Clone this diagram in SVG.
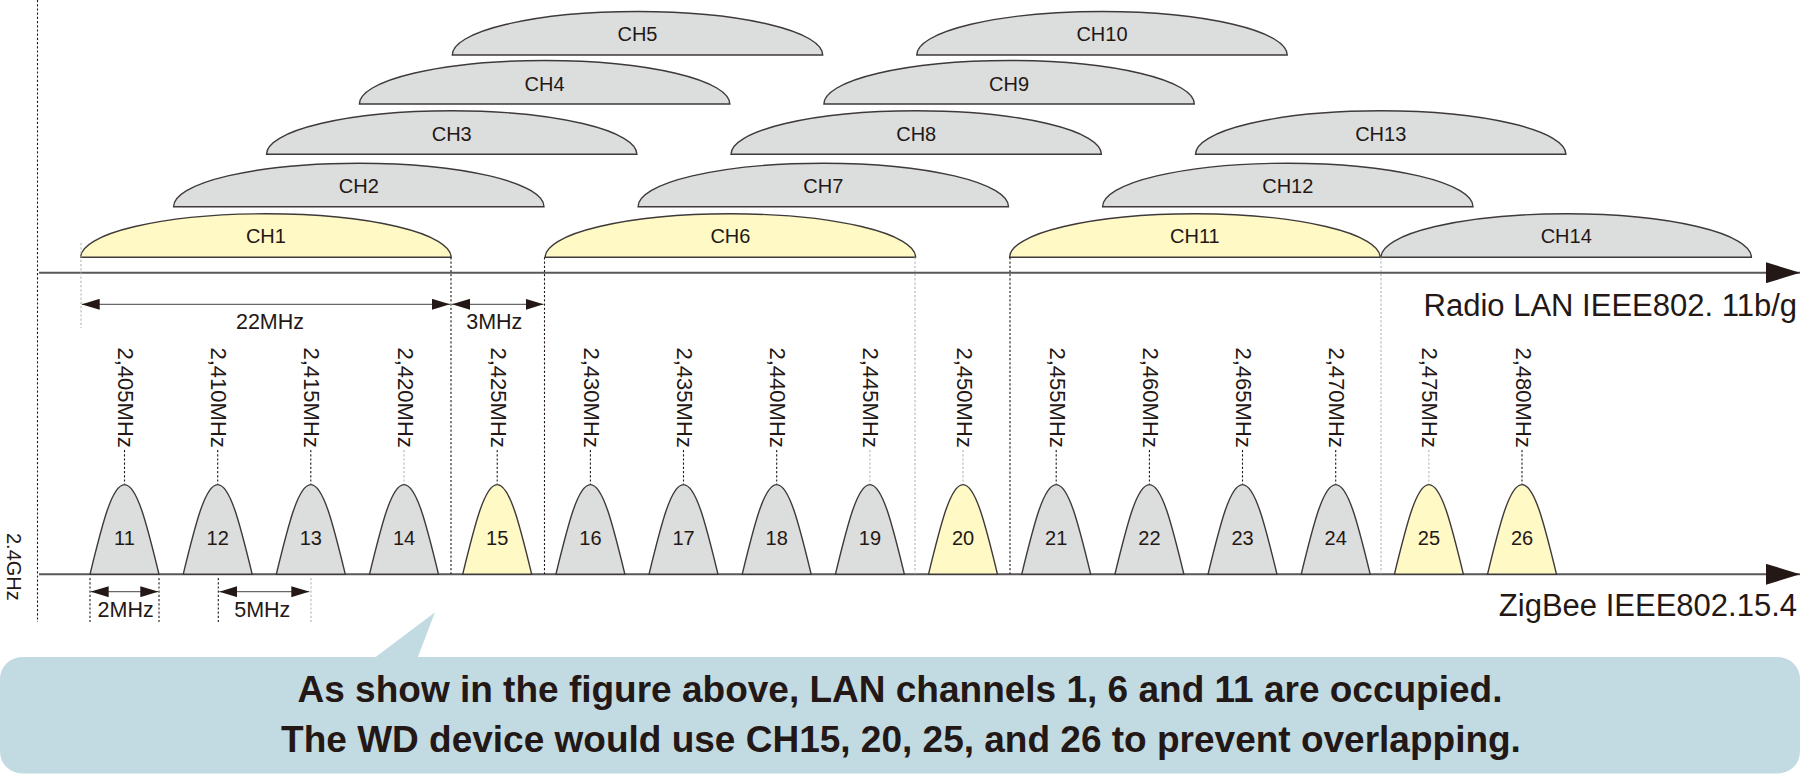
<svg xmlns="http://www.w3.org/2000/svg" width="1800" height="774" viewBox="0 0 1800 774">
<style>
text{font-family:"Liberation Sans",Arial,sans-serif;fill:#231815}
.lbl{font-size:20px;text-anchor:middle}
.dl{font-size:21.5px;text-anchor:middle}
.frq{font-size:22px}
.big{font-size:31px;text-anchor:end}
.note{font-size:37px;font-weight:bold;text-anchor:middle}
.shape{stroke:#3e3a39;stroke-width:1.4}
.gray{fill:#dcdddd}
.yel{fill:#fff9c6}
.axis{stroke:#595757;stroke-width:2;fill:none}
.dim{stroke:#6a6868;stroke-width:1.2;fill:none}
.dk{stroke:#231815;stroke-width:1.1;stroke-dasharray:2.2 2;fill:none}
.lt{stroke:#b5b5b6;stroke-width:1.1;stroke-dasharray:2.2 2;fill:none}
</style>
<defs>
<path id="arc" d="M0,0 A185.2 43.5 0 0 1 370.4,0 Z"/>
<path id="bell" d="M-34.5,0 C-22.08,-51.1 -12.42,-89.7 0,-89.7 C12.42,-89.7 22.08,-51.1 34.5,0 Z"/>
<marker id="dimArrow" viewBox="0 0 18 11" refX="18" refY="5.5" markerWidth="18" markerHeight="11" markerUnits="userSpaceOnUse" orient="auto-start-reverse"><path d="M0,0 L18,5.5 L0,11 Z" fill="#231815"/></marker>
<marker id="axisArrow" viewBox="0 0 34 21" refX="34" refY="10.5" markerWidth="34" markerHeight="21" markerUnits="userSpaceOnUse" orient="auto"><path d="M0,0 L34,10.5 L0,21 Z" fill="#231815"/></marker>
</defs>

<!-- WLAN channels -->
<g id="ch1"><use href="#arc" class="shape yel" transform="translate(80.7,257.3)"/><text class="lbl" x="265.9" y="243">CH1</text></g>
<g id="ch2"><use href="#arc" class="shape gray" transform="translate(173.6,206.7)"/><text class="lbl" x="358.8" y="192.7">CH2</text></g>
<g id="ch3"><use href="#arc" class="shape gray" transform="translate(266.5,154.3)"/><text class="lbl" x="451.7" y="140.7">CH3</text></g>
<g id="ch4"><use href="#arc" class="shape gray" transform="translate(359.4,104)"/><text class="lbl" x="544.6" y="90.7">CH4</text></g>
<g id="ch5"><use href="#arc" class="shape gray" transform="translate(452.3,55)"/><text class="lbl" x="637.5" y="40.7">CH5</text></g>
<g id="ch6"><use href="#arc" class="shape yel" transform="translate(545.2,257.3)"/><text class="lbl" x="730.4" y="243">CH6</text></g>
<g id="ch7"><use href="#arc" class="shape gray" transform="translate(638.1,206.7)"/><text class="lbl" x="823.3" y="192.7">CH7</text></g>
<g id="ch8"><use href="#arc" class="shape gray" transform="translate(731,154.3)"/><text class="lbl" x="916.2" y="140.7">CH8</text></g>
<g id="ch9"><use href="#arc" class="shape gray" transform="translate(823.9,104)"/><text class="lbl" x="1009.1" y="90.7">CH9</text></g>
<g id="ch10"><use href="#arc" class="shape gray" transform="translate(916.8,55)"/><text class="lbl" x="1102" y="40.7">CH10</text></g>
<g id="ch11"><use href="#arc" class="shape yel" transform="translate(1009.7,257.3)"/><text class="lbl" x="1194.9" y="243">CH11</text></g>
<g id="ch12"><use href="#arc" class="shape gray" transform="translate(1102.6,206.7)"/><text class="lbl" x="1287.8" y="192.7">CH12</text></g>
<g id="ch13"><use href="#arc" class="shape gray" transform="translate(1195.5,154.3)"/><text class="lbl" x="1380.7" y="140.7">CH13</text></g>
<g id="ch14"><use href="#arc" class="shape gray" transform="translate(1381,257.3)"/><text class="lbl" x="1566.2" y="243">CH14</text></g>

<!-- connectors: axes, guide lines, dimensions -->
<g id="connectors">
<line class="dk" x1="37.5" y1="0" x2="37.5" y2="622"/>
<line class="axis" x1="39" y1="272.7" x2="1800" y2="272.7" marker-end="url(#axisArrow)"/>
<line class="axis" x1="39" y1="574.3" x2="1800" y2="574.3" marker-end="url(#axisArrow)"/>
<line class="lt" x1="81" y1="243" x2="81" y2="328"/>
<line class="dk" x1="451" y1="257.3" x2="451" y2="574"/>
<line class="dk" x1="544.5" y1="257.3" x2="544.5" y2="574"/>
<line class="lt" x1="915" y1="257.3" x2="915" y2="574"/>
<line class="dk" x1="1010" y1="257.3" x2="1010" y2="574"/>
<line class="lt" x1="1381" y1="257.3" x2="1381" y2="574"/>
<line class="dim" x1="81.7" y1="304.3" x2="450" y2="304.3" marker-start="url(#dimArrow)" marker-end="url(#dimArrow)"/>
<line class="dim" x1="452" y1="304.3" x2="543.5" y2="304.3" marker-start="url(#dimArrow)" marker-end="url(#dimArrow)"/>
<line class="dk" x1="90" y1="578" x2="90" y2="622"/>
<line class="dk" x1="159" y1="578" x2="159" y2="622"/>
<line class="dk" x1="218.3" y1="578" x2="218.3" y2="622"/>
<line class="lt" x1="311" y1="578" x2="311" y2="622"/>
<line class="dim" x1="90.7" y1="591.7" x2="158.3" y2="591.7" marker-start="url(#dimArrow)" marker-end="url(#dimArrow)"/>
<line class="dim" x1="219.3" y1="591.7" x2="309.3" y2="591.7" marker-start="url(#dimArrow)" marker-end="url(#dimArrow)"/>
<line class="dk" x1="124.5" y1="450" x2="124.5" y2="484"/>
<line class="dk" x1="217.7" y1="450" x2="217.7" y2="484"/>
<line class="dk" x1="310.8" y1="450" x2="310.8" y2="484"/>
<line class="lt" x1="404" y1="450" x2="404" y2="484"/>
<line class="dk" x1="497.2" y1="450" x2="497.2" y2="484"/>
<line class="dk" x1="590.4" y1="450" x2="590.4" y2="484"/>
<line class="dk" x1="683.5" y1="450" x2="683.5" y2="484"/>
<line class="dk" x1="776.7" y1="450" x2="776.7" y2="484"/>
<line class="lt" x1="869.9" y1="450" x2="869.9" y2="484"/>
<line class="lt" x1="963" y1="450" x2="963" y2="484"/>
<line class="dk" x1="1056.2" y1="450" x2="1056.2" y2="484"/>
<line class="dk" x1="1149.4" y1="450" x2="1149.4" y2="484"/>
<line class="dk" x1="1242.5" y1="450" x2="1242.5" y2="484"/>
<line class="dk" x1="1335.7" y1="450" x2="1335.7" y2="484"/>
<line class="lt" x1="1428.9" y1="450" x2="1428.9" y2="484"/>
<line class="dk" x1="1522" y1="450" x2="1522" y2="484"/>
</g>

<!-- dimension and axis labels -->
<g id="labels">
<text class="dl" x="270" y="329.3">22MHz</text>
<text class="dl" x="494.3" y="329.3">3MHz</text>
<text class="dl" x="125.7" y="616.7">2MHz</text>
<text class="dl" x="262.3" y="616.7">5MHz</text>
<text class="big" x="1797" y="315.7">Radio LAN IEEE802. 11b/g</text>
<text class="big" x="1797" y="615.7">ZigBee IEEE802.15.4</text>
<text style="font-size:20px" transform="translate(6.5,533) rotate(90)">2.4GHz</text>
</g>

<!-- ZigBee channels -->
<g id="z11"><use href="#bell" class="shape gray" x="124.5" y="574.3"/><text class="lbl" x="124.5" y="545">11</text><text class="frq" transform="translate(118,347.5) rotate(90)">2,405MHz</text></g>
<g id="z12"><use href="#bell" class="shape gray" x="217.7" y="574.3"/><text class="lbl" x="217.7" y="545">12</text><text class="frq" transform="translate(211.2,347.5) rotate(90)">2,410MHz</text></g>
<g id="z13"><use href="#bell" class="shape gray" x="310.8" y="574.3"/><text class="lbl" x="310.8" y="545">13</text><text class="frq" transform="translate(304.3,347.5) rotate(90)">2,415MHz</text></g>
<g id="z14"><use href="#bell" class="shape gray" x="404" y="574.3"/><text class="lbl" x="404" y="545">14</text><text class="frq" transform="translate(397.5,347.5) rotate(90)">2,420MHz</text></g>
<g id="z15"><use href="#bell" class="shape yel" x="497.2" y="574.3"/><text class="lbl" x="497.2" y="545">15</text><text class="frq" transform="translate(490.7,347.5) rotate(90)">2,425MHz</text></g>
<g id="z16"><use href="#bell" class="shape gray" x="590.4" y="574.3"/><text class="lbl" x="590.4" y="545">16</text><text class="frq" transform="translate(583.9,347.5) rotate(90)">2,430MHz</text></g>
<g id="z17"><use href="#bell" class="shape gray" x="683.5" y="574.3"/><text class="lbl" x="683.5" y="545">17</text><text class="frq" transform="translate(677,347.5) rotate(90)">2,435MHz</text></g>
<g id="z18"><use href="#bell" class="shape gray" x="776.7" y="574.3"/><text class="lbl" x="776.7" y="545">18</text><text class="frq" transform="translate(770.2,347.5) rotate(90)">2,440MHz</text></g>
<g id="z19"><use href="#bell" class="shape gray" x="869.9" y="574.3"/><text class="lbl" x="869.9" y="545">19</text><text class="frq" transform="translate(863.4,347.5) rotate(90)">2,445MHz</text></g>
<g id="z20"><use href="#bell" class="shape yel" x="963" y="574.3"/><text class="lbl" x="963" y="545">20</text><text class="frq" transform="translate(956.5,347.5) rotate(90)">2,450MHz</text></g>
<g id="z21"><use href="#bell" class="shape gray" x="1056.2" y="574.3"/><text class="lbl" x="1056.2" y="545">21</text><text class="frq" transform="translate(1049.7,347.5) rotate(90)">2,455MHz</text></g>
<g id="z22"><use href="#bell" class="shape gray" x="1149.4" y="574.3"/><text class="lbl" x="1149.4" y="545">22</text><text class="frq" transform="translate(1142.9,347.5) rotate(90)">2,460MHz</text></g>
<g id="z23"><use href="#bell" class="shape gray" x="1242.5" y="574.3"/><text class="lbl" x="1242.5" y="545">23</text><text class="frq" transform="translate(1236,347.5) rotate(90)">2,465MHz</text></g>
<g id="z24"><use href="#bell" class="shape gray" x="1335.7" y="574.3"/><text class="lbl" x="1335.7" y="545">24</text><text class="frq" transform="translate(1329.2,347.5) rotate(90)">2,470MHz</text></g>
<g id="z25"><use href="#bell" class="shape yel" x="1428.9" y="574.3"/><text class="lbl" x="1428.9" y="545">25</text><text class="frq" transform="translate(1422.4,347.5) rotate(90)">2,475MHz</text></g>
<g id="z26"><use href="#bell" class="shape yel" x="1522" y="574.3"/><text class="lbl" x="1522" y="545">26</text><text class="frq" transform="translate(1515.5,347.5) rotate(90)">2,480MHz</text></g>

<!-- callout -->
<g id="callout">
<rect x="0" y="657" width="1800" height="116.5" rx="22" fill="#c2dbe2"/>
<polygon points="371.7,660 435,612.3 416.7,660" fill="#c2dbe2"/>
<text class="note" x="900" y="701.7">As show in the figure above, LAN channels 1, 6 and 11 are occupied.</text>
<text class="note" x="901" y="751.7">The WD device would use CH15, 20, 25, and 26 to prevent overlapping.</text>
</g>
</svg>
